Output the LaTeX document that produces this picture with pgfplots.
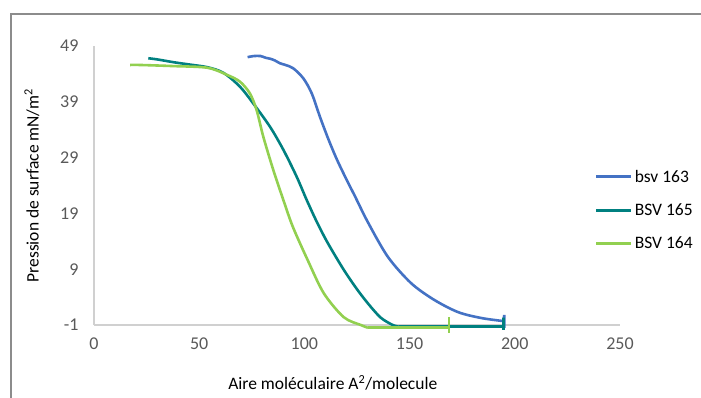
\documentclass[border=0pt]{standalone}
\usepackage{fontspec}
\setmainfont{Carlito}
\usepackage{pgfplots}
\pgfplotsset{compat=1.18}
\definecolor{cblue}{HTML}{4472C4}
\definecolor{cteal}{HTML}{008080}
\definecolor{cgreen}{HTML}{92D050}
\definecolor{axgray}{HTML}{D0D0D0}
\definecolor{tickgray}{HTML}{595959}
\definecolor{framegray}{HTML}{8C8C8C}
\begin{document}
\begin{tikzpicture}[x=1pt,y=1pt]
\useasboundingbox (0,0) rectangle (701,397);
\draw[framegray, line width=1.6pt] (11,-2) -- (11,383) -- (703,383);
\begin{axis}[
  at={(94pt,72pt)}, anchor=south west,
  scale only axis, width=526pt, height=279pt,
  xmin=0, xmax=250, ymin=-1, ymax=49,
  xtick={0,50,100,150,200,250},
  ytick={-1,9,19,29,39,49},
  axis x line=bottom, axis y line=left,
  axis line style={axgray, line width=1.3pt, -},
  major tick length=0pt,
  clip=false,
  /pgf/number format/assume math mode=true,
  tick label style={font=\fontsize{18}{20}\selectfont, text=tickgray},
  xticklabel style={yshift=-9pt},
  yticklabel style={xshift=-12pt},
  xlabel={Aire moléculaire A\textsuperscript{2}/molecule},
  ylabel={Pression de surface mN/m\textsuperscript{2}},
  label style={font=\fontsize{17.5}{20}\selectfont},
  xlabel style={at={(axis description cs:0.454,-0.208)}, anchor=center},
  ylabel style={at={(axis description cs:-0.118,0.5)}, anchor=center},
  legend style={draw=none, fill=none, at={(0.946,0.57)}, anchor=north west,
    font=\fontsize{17.5}{20}\selectfont, row sep=16pt},
  legend cell align=left,
  legend image code/.code={\draw[#1, line width=3pt] (0pt,0pt) -- (35pt,0pt);},
]
\addplot[cblue, line width=2.6pt, smooth, tension=0.5] coordinates {
(73.0,47.0)(76,47.2)(79.2,47.2)(81.5,46.9)(83.9,46.7)(86,46.4)(88.4,45.9)(91,45.6)(94.7,45.0)(99.5,43.2)(103.5,40.5)(107.4,36.3)(111.4,32.3)(115.4,28.7)(120.1,25.0)(124,22.1)(130.2,17.4)(139.7,11.2)(150.7,6.5)(161.7,3.5)(173.1,1.3)(184.1,0.25)(194.6,-0.3)
};
\addlegendentry{bsv 163}
\addplot[cteal, line width=2.6pt, smooth, tension=0.5] coordinates {
(25.8,46.8)(30,46.6)(37.7,46.1)(45,45.7)(53.9,45.2)(61.5,44.2)(69.4,41.7)(75.7,38.7)(83.7,34.5)(90,30.4)(96.3,25.6)(101.1,21.4)(106,17.4)(111.1,13.7)(118.7,8.9)(125.4,5.2)(131,2.5)(136,0.4)(139.5,-0.5)(142.6,-1.1)(145,-1.3)
};
\addlegendentry{BSV 165}
\addplot[cgreen, line width=2.6pt, smooth, tension=0.5] coordinates {
(17.2,45.6)(21.9,45.6)(37.7,45.4)(53.9,45.1)(63.4,43.8)(69.4,42.6)(74.1,40.5)(77.3,37.5)(80.5,32.7)(85.2,26.8)(90,21.4)(94.5,16.6)(101.6,10.6)(109.2,4.7)(118.7,0.4)(126.8,-1.0)(130.2,-1.5)
};
\addlegendentry{BSV 164}
\addplot[cblue, line width=2.6pt, forget plot] coordinates {(194.6,-0.3)(195,0.8)(195,-1.5)};
\addplot[cteal, line width=2.6pt, forget plot] coordinates {(145,-1.3)(194.5,-1.3)(194.5,0.3)(194.5,-1.9)};
\addplot[cgreen, line width=2.6pt, forget plot] coordinates {(130.2,-1.5)(168.8,-1.5)(168.8,0.4)(168.8,-2.4)};
\end{axis}
\end{tikzpicture}
\end{document}
